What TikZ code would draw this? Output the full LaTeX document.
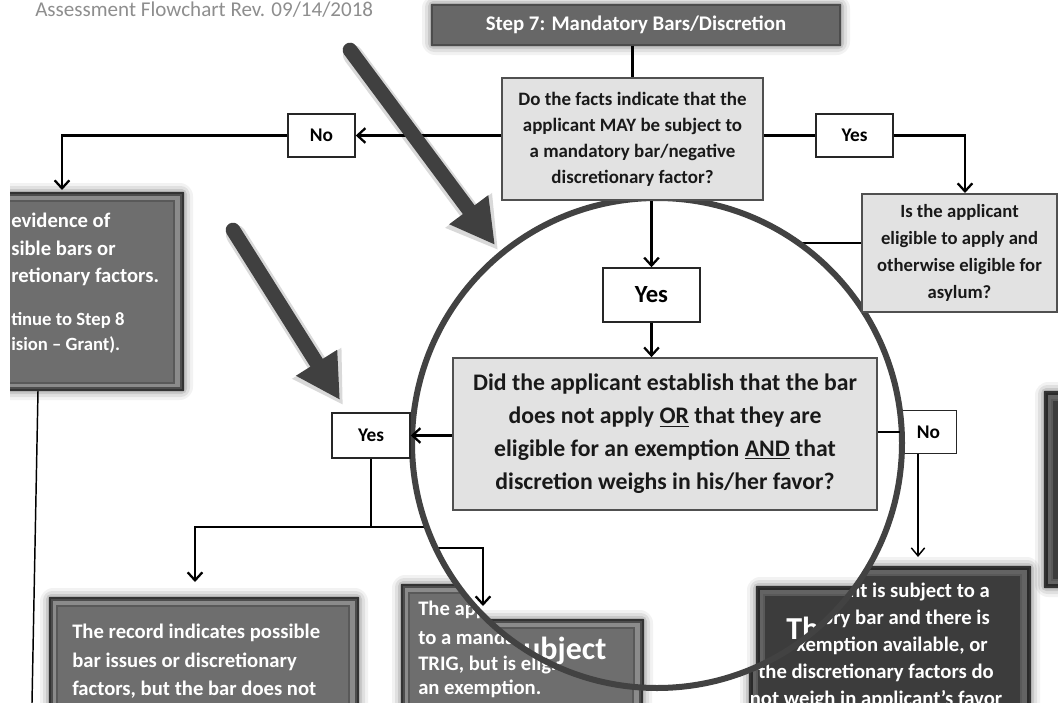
\documentclass[tikz,border=0pt]{standalone}
\usepackage{fontspec}
\setmainfont{Carlito}
\usetikzlibrary{arrows.meta,calc,fit}

\definecolor{qfill}{HTML}{E2E2E2}
\definecolor{qedge}{HTML}{505050}
\definecolor{boxmid}{HTML}{6E6E6E}
\definecolor{boxdark}{HTML}{3C3C3C}
\definecolor{ringc}{HTML}{424242}
\definecolor{titlec}{HTML}{8E8E8E}
\definecolor{hdfill}{HTML}{676767}
\definecolor{pointer}{HTML}{404040}

% soft halo around a rectangle given by its top-left and bottom-right corners
\newcommand{\glowrect}[2]{%
  \foreach \gw/\op in {10/0.05,7/0.07,4/0.10,2/0.12}{%
    \fill[black,opacity=\op,rounded corners=\gw pt] ($#1+(-\gw,-\gw)$) rectangle ($#2+(\gw,\gw)$);
  }}
% dark bevelled box: name, top-left, bottom-right, face colour
\newcommand{\bevelbox}[4]{%
  \glowrect{#2}{#3}%
  \node[fit={#2 #3}, inner sep=0pt, draw=black!80, line width=2.2pt, fill=#4!70!black] (#1) {};%
  \fill[#4!80!white] ($#2+(3,3)$) rectangle ($#3+(-3,-3)$);%
  \fill[#4] ($#2+(7,8)$) rectangle ($#3+(-9,-7)$);%
  \draw[black!65, line width=0.8pt] ($#2+(7,8)$) rectangle ($#3+(-9,-7)$);%
}

\tikzset{
  conn/.style={draw=black, line width=1.7pt},
  thin conn/.style={draw=black, line width=1.1pt},
  arr/.style={conn, -{Straight Barb[length=6pt,width=11pt]}},
  thin arr/.style={thin conn, -{Straight Barb[length=6pt,width=10pt]}},
  qbox/.style={draw=qedge, line width=1.3pt, fill=qfill, inner sep=0pt, align=center, text=black!90},
  tagbox/.style={draw=black!85, line width=1.1pt, fill=white, inner sep=0pt, font=\bfseries\fontsize{14.5}{17}\selectfont},
  wtxt/.style={text=white, inner sep=0pt, font=\bfseries\fontsize{15.5}{18}\selectfont},
  lensring/.style={draw=ringc, line width=4.5pt},
  pointer arrow/.style={draw=pointer, line width=11pt, line cap=round, -{Triangle[length=33pt,width=34pt]}},
  pointer shade/.style={draw=black, opacity=0.15, line width=15pt, line cap=round, -{Triangle[length=37pt,width=41pt]}},
}

\begin{document}
\begin{tikzpicture}[x=0.75pt,y=-0.75pt]
\useasboundingbox (0,0) rectangle (1058,703);
\begin{scope}
\clip (0,0) rectangle (1058,703);
\fill[white] (0,0) rectangle (1058,703);

% ---------- boxes lying partly under the lens
\begin{scope}
  \clip (10,0) rectangle (1058,703);
  \bevelbox{leftbox}{(-20,193)}{(183,390)}{boxmid}
\end{scope}
\node[wtxt, anchor=west] (lb1) at (11,220) {evidence of};
\node[wtxt, anchor=west] (lb2) at (11,248) {sible bars or};
\node[wtxt, anchor=west] (lb3) at (11,277) {retionary factors.};
\node[wtxt, anchor=west, font=\bfseries\fontsize{14}{16}\selectfont] (lb4) at (11,320) {tinue to Step 8};
\node[wtxt, anchor=west, font=\bfseries\fontsize{14}{16}\selectfont] (lb5) at (11,345) {ision -- Grant).};

\coordinate (lbbot) at (38,391);
\coordinate (lbend) at (32,703);
\draw[thin conn] (lbbot) -- (lbend);

\bevelbox{recbox}{(50,598)}{(358,770)}{boxmid}
\node[wtxt, anchor=west] (rec1) at (72,633) {The record indicates possible};
\node[wtxt, anchor=west] (rec2) at (72,662) {bar issues or discretionary};
\node[wtxt, anchor=west] (rec3) at (72,690) {factors, but the bar does not};

\bevelbox{midbox}{(402,585)}{(642,770)}{boxmid}
\node[wtxt, anchor=west] (mid1) at (418,610) {The app};
\node[wtxt, anchor=west] (mid2) at (418,637) {to a manda};
\node[wtxt, anchor=west] (mid3) at (418,665) {TRIG, but is eligi};
\node[wtxt, anchor=west] (mid4) at (418,689) {an exemption.};

\bevelbox{rightbox}{(750,567)}{(1030,770)}{boxdark}
\node[wtxt, anchor=east] (rb1) at (990,592) {nt is subject to a};
\node[wtxt, anchor=east] (rb2) at (990,619) {ory bar and there is};
\node[wtxt, anchor=east] (rb3) at (988,646) {xemption available, or};
\node[wtxt] (rb4) at (876,673) {the discretionary factors do};
\node[wtxt] (rb5) at (876,700) {not weigh in applicant’s favor};

\bevelbox{farbox}{(1045,392)}{(1110,587)}{boxdark}

\node[tagbox, minimum width=42pt, minimum height=32.25pt] (nobox2) at (928.5,432) {No};
\coordinate (rbin) at (918,557);
\draw[thin arr] (nobox2.south -| rbin) -- (rbin);

\coordinate (joinM) at (371,527);
\coordinate (joinR) at (445,527);
\draw[conn] (joinM) -- (joinR);

\coordinate (q2out) at (862,243);
\coordinate (q2under) at (790,243);
\draw[conn] (q2out) -- (q2under);

% ---------- the lens
\fill[white] (657,443) circle[radius=183.75pt];
\begin{scope}
  \clip (657,443) circle[radius=183.75pt];
  \bevelbox{zoommid}{(460,620)}{(643,800)}{boxmid}
  \node[wtxt, anchor=west, font=\bfseries\fontsize{24}{28}\selectfont] (zoomsub) at (523,651) {ubject};
  \bevelbox{zoomright}{(757,587)}{(1000,800)}{boxdark}
  \node[wtxt, anchor=west, font=\bfseries\fontsize{24}{28}\selectfont] (zoomth) at (786,628) {Th};
  \coordinate (zl1) at (420,548);
  \coordinate (zl2) at (483,548);
  \coordinate (zl3) at (483,606);
  \draw[arr] (zl1) -- (zl2) -- (zl3);
\end{scope}
\node[tagbox, minimum width=72.75pt, minimum height=40.5pt, font=\bfseries\fontsize{18.5}{22}\selectfont] (bigyes) at (651.5,295) {Yes};
\node[qbox, minimum width=318pt, minimum height=114pt, font=\bfseries\fontsize{17.8}{24.75}\selectfont] (q3) at (665,434)
  {Did the applicant establish that the bar\\does not apply \underline{OR} that they are\\eligible for an exemption \underline{AND} that\\discretion weighs in his/her favor?};
\draw[arr] (bigyes.south) -- (bigyes.south |- q3.north);
\draw[lensring] (657,443) circle[radius=183.75pt];

% ---------- top of the chart
\node[anchor=west, text=titlec, inner sep=0pt, font=\fontsize{15.8}{18}\selectfont] (title) at (35,10) {Assessment Flowchart Rev. 09/14/2018};
\glowrect{(432,5)}{(840,45)}
\node[minimum width=306pt, minimum height=30pt, inner sep=0pt, fill=hdfill, draw=black!70, line width=0.8pt, text=white, font=\bfseries\fontsize{15.6}{18}\selectfont] (header) at (636,25) {Step 7: Mandatory Bars/Discretion};
\node[qbox, minimum width=195.75pt, minimum height=91.5pt, font=\bfseries\fontsize{14.2}{19.5}\selectfont] (q1) at (632.5,139)
  {Do the facts indicate that the\\applicant MAY be subject to\\a mandatory bar/negative\\discretionary factor?};
\node[tagbox, minimum width=50.25pt, minimum height=32.25pt] (nobox) at (321.5,135.5) {No};
\node[tagbox, minimum width=57.75pt, minimum height=32.25pt] (yesTR) at (854.5,135.5) {Yes};
\node[qbox, minimum width=146.25pt, minimum height=88.5pt, font=\bfseries\fontsize{14}{20.25}\selectfont] (q2) at (959.5,253)
  {Is the applicant\\eligible to apply and\\otherwise eligible for\\asylum?};
\node[tagbox, minimum width=58.5pt, minimum height=33.75pt] (smallyes) at (371,435.5) {Yes};

\draw[conn] (q1.north |- header.south) -- (q1.north);
\draw[arr] (q1.west |- nobox.east) -- (nobox.east);
\coordinate (lbtop) at (62,190);
\draw[arr] (nobox.west) -| (lbtop);
\draw[conn] (q1.east |- yesTR.west) -- (yesTR.west);
\coordinate (q2in) at (965,193);
\draw[arr] (yesTR.east) -| (q2in);
\draw[arr] (bigyes.north |- q1.south) -- (bigyes.north);
\draw[arr] (q3.west |- smallyes.east) -- (smallyes.east);
\draw[conn] (q3.east |- nobox2.west) -- (nobox2.west);
\coordinate (recin) at (195,582);
\draw[conn] (smallyes.south) -- (joinM);
\draw[arr] (joinM) -| (recin);

% ---------- pointer arrows
\coordinate (p1s) at (350,50);
\coordinate (p1e) at (495,245);
\coordinate (p2s) at (233,230);
\coordinate (p2e) at (340,400);
\foreach \ps/\pe in {p1s/p1e,p2s/p2e}{
  \draw[pointer shade] ($(\ps)+(3,5)$) -- ($(\pe)+(3,5)$);
  \draw[pointer arrow] (\ps) -- (\pe);
}
\end{scope}
\end{tikzpicture}
\end{document}
